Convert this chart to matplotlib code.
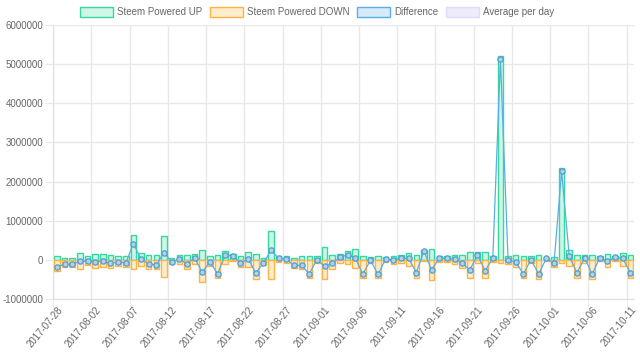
import numpy as np
import pandas as pd
import matplotlib
matplotlib.use('Agg')
import matplotlib.pyplot as plt
from matplotlib.patches import Patch
from matplotlib.ticker import FixedLocator, MultipleLocator

plt.rcParams['font.family'] = ['Liberation Sans', 'DejaVu Sans']

# 每日数据（单位：百万），从 2017-07-28 到 2017-10-11
dates = pd.date_range('2017-07-28', '2017-10-11', freq='D').strftime('%Y-%m-%d').tolist()

powered_up = [
    0.10, 0.06, 0.06, 0.19, 0.10, 0.16, 0.15, 0.12, 0.10, 0.09,
    0.64, 0.17, 0.12, 0.12, 0.62, 0.04, 0.13, 0.12, 0.16, 0.25,
    0.10, 0.12, 0.23, 0.14, 0.09, 0.20, 0.16, 0.06, 0.74, 0.09,
    0.10, 0.06, 0.10, 0.10, 0.09, 0.33, 0.13, 0.16, 0.23, 0.27,
    0.09, 0.07, 0.10, 0.07, 0.10, 0.12, 0.19, 0.13, 0.25, 0.27,
    0.09, 0.09, 0.12, 0.12, 0.20, 0.20, 0.20, 0.09, 5.20, 0.09,
    0.12, 0.09, 0.10, 0.13, 0.06, 0.08, 2.35, 0.25, 0.12, 0.13,
    0.12, 0.09, 0.15, 0.10, 0.19, 0.12,
]
powered_down = [
    -0.27, -0.17, -0.17, -0.22, -0.13, -0.20, -0.18, -0.21, -0.15, -0.17,
    -0.22, -0.15, -0.22, -0.24, -0.43, -0.10, -0.10, -0.22, -0.11, -0.56,
    -0.15, -0.47, -0.11, -0.03, -0.18, -0.17, -0.49, -0.14, -0.49, -0.05,
    -0.08, -0.20, -0.24, -0.45, -0.08, -0.49, -0.22, -0.09, -0.10, -0.21,
    -0.45, -0.08, -0.47, -0.04, -0.10, -0.08, -0.15, -0.45, -0.03, -0.52,
    -0.04, -0.05, -0.10, -0.20, -0.45, -0.08, -0.47, -0.05, -0.08, -0.10,
    -0.17, -0.45, -0.09, -0.49, -0.02, -0.17, -0.09, -0.15, -0.45, -0.08,
    -0.48, -0.03, -0.18, -0.03, -0.15, -0.45,
]
difference = [
    -0.17, -0.11, -0.11, -0.03, -0.03, -0.04, -0.03, -0.09, -0.05, -0.08,
    0.42, 0.02, -0.10, -0.12, 0.19, -0.06, 0.03, -0.10, 0.05, -0.31,
    -0.05, -0.35, 0.12, 0.11, -0.09, 0.03, -0.33, -0.08, 0.25, 0.04,
    0.02, -0.14, -0.14, -0.35, 0.01, -0.16, -0.09, 0.07, 0.13, 0.06,
    -0.36, -0.01, -0.37, 0.03, 0.00, 0.04, 0.04, -0.32, 0.22, -0.25,
    0.05, 0.04, 0.02, -0.08, -0.25, 0.12, -0.27, 0.04, 5.12, -0.01,
    -0.05, -0.36, 0.01, -0.36, 0.04, -0.09, 2.26, 0.10, -0.33, 0.05,
    -0.36, 0.06, -0.03, 0.07, 0.04, -0.33,
]

scale = 1e6
x = np.arange(len(dates))
up = np.array(powered_up) * scale
down = np.array(powered_down) * scale
diff = np.array(difference) * scale

green_edge = '#36d8a0'
green_fill = '#cdf6e7'
orange_edge = '#ffb347'
orange_fill = '#ffedcc'
blue_edge = '#5aaee8'
blue_fill = '#d6eaf9'
lav_edge = '#dcdcf6'
lav_fill = '#ececfb'
text_color = '#666666'
grid_color = '#e8e8e8'

fig = plt.figure(figsize=(6.4, 3.6), dpi=100)
ax = fig.add_axes([0.083, 0.169, 0.908, 0.762])

# 柱状图（上下堆叠）
ax.bar(x, up, width=0.72, color=green_fill, edgecolor=green_edge, linewidth=1, zorder=2)
ax.bar(x, down, width=0.72, color=orange_fill, edgecolor=orange_edge, linewidth=1, zorder=2)

# 差值折线
ax.plot(x, diff, color=blue_edge, linewidth=0.9, zorder=3,
        marker='o', markersize=3.8, markerfacecolor='#b9cfdc',
        markeredgecolor='#4a9fd6', markeredgewidth=0.9)

# 坐标轴
ax.set_xlim(-0.5, len(dates) - 0.5)
ax.set_ylim(-1e6, 6e6)
ax.yaxis.set_major_locator(MultipleLocator(1e6))
ax.set_yticklabels([f'{int(v)}' for v in ax.get_yticks()])

shown = list(range(0, len(dates), 5))
ax.set_xticks(shown)
ax.set_xticklabels([dates[i] for i in shown], rotation=50, ha='right',
                   rotation_mode='anchor')
ax.xaxis.set_minor_locator(FixedLocator([i - 0.5 for i in shown]))

ax.tick_params(axis='x', which='major', length=0, pad=4, labelsize=7, labelcolor=text_color)
ax.tick_params(axis='x', which='minor', length=6, color=grid_color)
ax.tick_params(axis='y', length=6, color=grid_color, labelsize=7, labelcolor=text_color, pad=1)

ax.grid(True, axis='y', color=grid_color, linewidth=1, zorder=0)
ax.grid(True, axis='x', which='minor', color=grid_color, linewidth=1, zorder=0)
ax.axhline(0, color='#d4d4d4', linewidth=1, zorder=1)

for side in ['top', 'right']:
    ax.spines[side].set_visible(False)
ax.spines['left'].set_color('#e0e0e0')
ax.spines['bottom'].set_color('#e0e0e0')
ax.set_axisbelow(True)

# 图例
handles = [
    Patch(facecolor=green_fill, edgecolor=green_edge, linewidth=1, label='Steem Powered UP'),
    Patch(facecolor=orange_fill, edgecolor=orange_edge, linewidth=1, label='Steem Powered DOWN'),
    Patch(facecolor=blue_fill, edgecolor=blue_edge, linewidth=1, label='Difference'),
    Patch(facecolor=lav_fill, edgecolor=lav_edge, linewidth=1, label='Average per day'),
]
fig.legend(handles=handles, loc='upper center', bbox_to_anchor=(0.495, 1.0), ncol=4,
           frameon=False, fontsize=7, labelcolor=text_color, handlelength=3.4,
           handleheight=1.2, handletextpad=0.4, columnspacing=0.8,
           borderaxespad=0.3)

fig.savefig('out.png', dpi=100)
